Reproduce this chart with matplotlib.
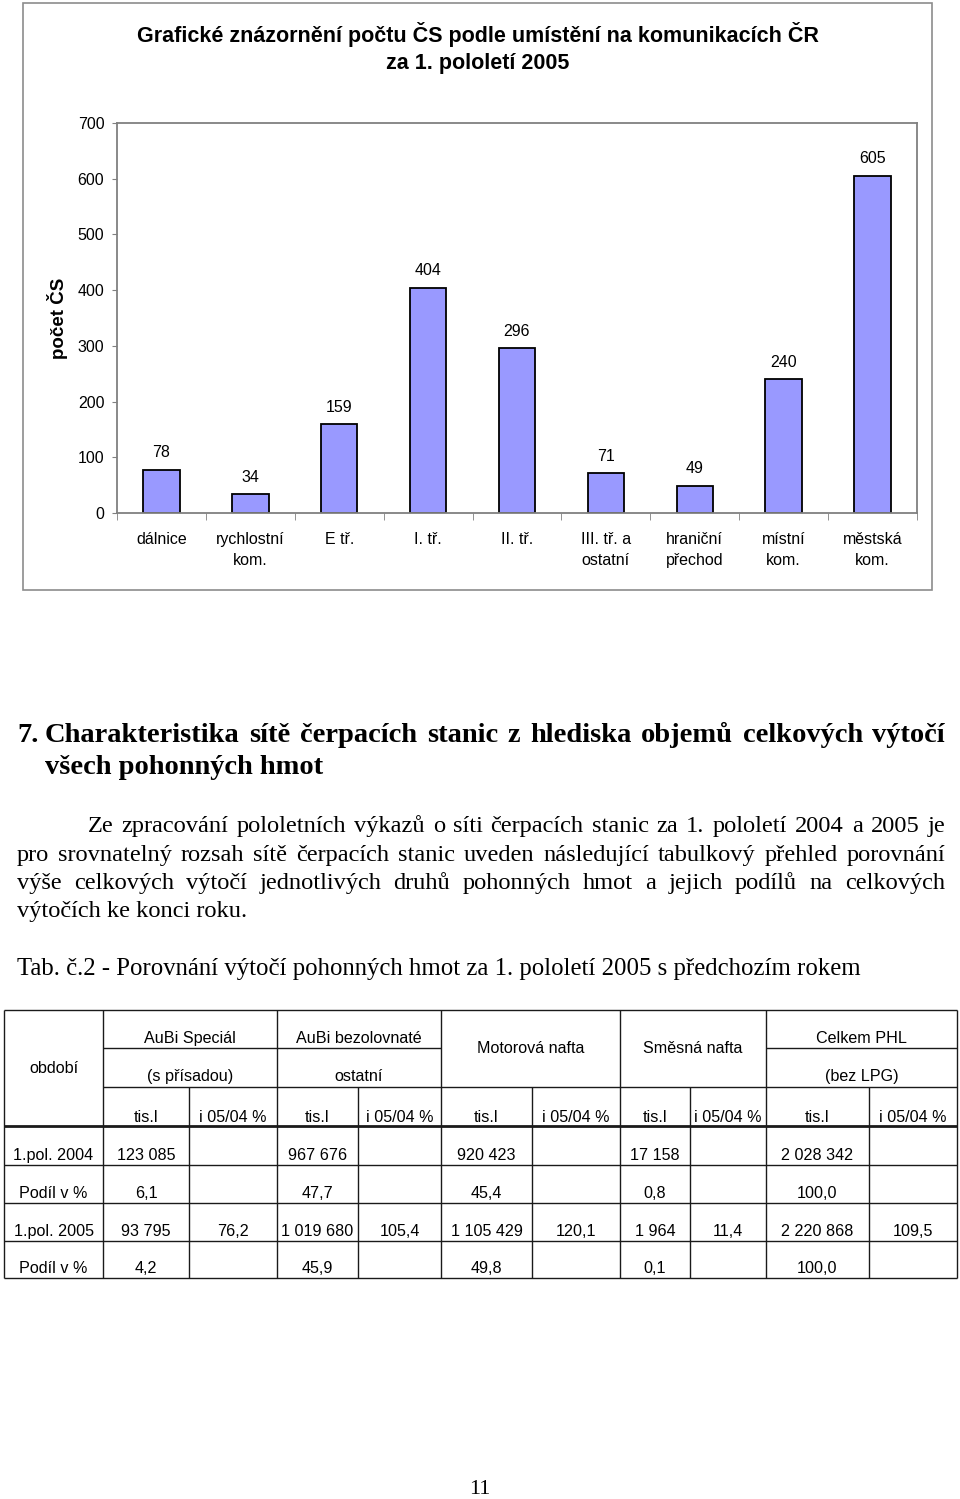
import numpy as np
import matplotlib
matplotlib.use("Agg")
import matplotlib.pyplot as plt
from matplotlib.patches import Rectangle

# data
categories = ["dálnice", "rychlostní\nkom.", "E tř.", "I. tř.", "II. tř.",
              "III. tř. a\nostatní", "hraniční\npřechod", "místní\nkom.", "městská\nkom."]
counts = [78, 34, 159, 404, 296, 71, 49, 240, 605]

chart_title = ["Grafické znázornění počtu ČS podle umístění na komunikacích ČR",
               "za 1. pololetí 2005"]

heading = ["7.", "Charakteristika sítě čerpacích stanic z hlediska objemů celkových výtočí",
           "všech pohonných hmot"]
paragraph = ["Ze zpracování pololetních výkazů o síti čerpacích stanic za 1. pololetí 2004 a 2005 je",
             "pro srovnatelný rozsah sítě čerpacích stanic uveden následující tabulkový přehled porovnání",
             "výše celkových výtočí jednotlivých druhů pohonných hmot a jejich podílů na celkových",
             "výtočích ke konci roku."]
tab_caption = "Tab. č.2 - Porovnání výtočí pohonných hmot za 1. pololetí 2005 s předchozím rokem"

products = [("AuBi Speciál", "(s přísadou)"), ("AuBi bezolovnaté", "ostatní"),
            ("Motorová nafta", None), ("Směsná nafta", None), ("Celkem PHL", "(bez LPG)")]
row_names = ["1.pol. 2004", "Podíl v %", "1.pol. 2005", "Podíl v %"]
vol_2004 = ["123 085", "967 676", "920 423", "17 158", "2 028 342"]
share_2004 = ["6,1", "47,7", "45,4", "0,8", "100,0"]
vol_2005 = ["93 795", "1 019 680", "1 105 429", "1 964", "2 220 868"]
index_05_04 = ["76,2", "105,4", "120,1", "11,4", "109,5"]
share_2005 = ["4,2", "45,9", "49,8", "0,1", "100,0"]

SANS = "Liberation Sans"
SERIF = "Liberation Serif"
plt.rcParams["font.family"] = SANS

W, H = 960, 1499
fig = plt.figure(figsize=(W / 100, H / 100), dpi=100)
page = fig.add_axes([0, 0, 1, 1])
page.set_xlim(0, W)
page.set_ylim(H, 0)
page.axis("off")

# ---- graf ----
page.add_patch(Rectangle((23, 3), 909, 587, fill=False, ec="#8c8c8c", lw=1.2))
page.text(478, 41.5, chart_title[0], ha="center", va="baseline", fontsize=15.5, weight="bold")
page.text(478, 69, chart_title[1], ha="center", va="baseline", fontsize=15.5, weight="bold")
page.text(57, 318, "počet ČS", rotation=90, ha="center", va="center", fontsize=13.5, weight="bold")

ax = fig.add_axes([117 / W, 1 - 513 / H, (917 - 117) / W, (513 - 123) / H])
x = np.arange(len(counts))
ax.bar(x, counts, width=0.41, color="#9999ff", edgecolor="black", lw=1.3)
ax.set_xlim(-0.5, 8.5)
ax.set_ylim(0, 700)
ax.set_yticks(range(0, 701, 100))
for s in ax.spines.values():
    s.set_color("#808080")
    s.set_linewidth(1.3)
ax.tick_params(axis="y", length=3.6, color="#808080", pad=5.5, labelsize=11.5)
ax.set_xticks(x)
ax.set_xticklabels(categories, linespacing=1.45)
ax.set_xticks(np.arange(-0.5, 9, 1), minor=True)
ax.tick_params(axis="x", which="major", length=0, pad=14, labelsize=11.5)
ax.tick_params(axis="x", which="minor", length=5, color="#808080")
for i, v in zip(x, counts):
    ax.annotate(str(v), (i, v), xytext=(0, 9), textcoords="offset points",
                ha="center", va="baseline", fontsize=11.5)

# ---- text ----
renderer = fig.canvas.get_renderer()


def justify(line, y, x0, x1, size, weight="normal"):
    words = line.split()
    texts = [page.text(0, y, w, va="baseline", fontsize=size, family=SERIF, weight=weight)
             for w in words]
    widths = [t.get_window_extent(renderer).width for t in texts]
    gap = (x1 - x0 - sum(widths)) / (len(words) - 1)
    pos = x0
    for t, w in zip(texts, widths):
        t.set_x(pos)
        pos += w + gap


page.text(17, 741.5, heading[0], va="baseline", fontsize=20.5, family=SERIF, weight="bold")
justify(heading[1], 741.5, 45, 945, 20.5, "bold")
page.text(45, 774, heading[2], va="baseline", fontsize=20.5, family=SERIF, weight="bold")

justify(paragraph[0], 832, 88, 945, 17.6)
justify(paragraph[1], 861, 17, 945, 17.6)
justify(paragraph[2], 889, 17, 945, 17.6)
page.text(17, 917, paragraph[3], va="baseline", fontsize=17.6, family=SERIF)
page.text(17, 975, tab_caption, va="baseline", fontsize=17.8, family=SERIF)

# ---- tabulka ----
LC = "#1a1a1a"


def hline(y, x0, x1, lw=1.0):
    page.plot([x0, x1], [y, y], color=LC, lw=lw, solid_capstyle="butt")


def vline(xx, y0, y1, lw=1.0):
    page.plot([xx, xx], [y0, y1], color=LC, lw=lw, solid_capstyle="butt")


col_edges = [103, 277, 441, 620, 766, 957]
sub_edges = [189, 358, 532, 690, 869]

hline(1010, 4, 957)
hline(1278, 4, 957)
vline(4, 1010, 1278)
vline(957, 1010, 1278)
hline(1048, 103, 441)
hline(1048, 766, 957)
hline(1087, 103, 957)
hline(1126, 4, 957, lw=2.0)
for yy in [1165, 1203, 1241]:
    hline(yy, 4, 957)
for xx in col_edges[:-1]:
    vline(xx, 1010, 1278)
for xx in sub_edges:
    vline(xx, 1087, 1278)

TS = 11.6
page.text(53.5, 1073, "období", ha="center", va="baseline", fontsize=TS)
for k, (top, bottom) in enumerate(products):
    cx = (col_edges[k] + col_edges[k + 1]) / 2
    if bottom is None:
        page.text(cx, 1053, top, ha="center", va="baseline", fontsize=TS)
    else:
        page.text(cx, 1043, top, ha="center", va="baseline", fontsize=TS)
        page.text(cx, 1081, bottom, ha="center", va="baseline", fontsize=TS)

tis_x = [(col_edges[k] + sub_edges[k]) / 2 for k in range(5)]
idx_x = [(sub_edges[k] + col_edges[k + 1]) / 2 for k in range(5)]
for k in range(5):
    page.text(tis_x[k], 1122, "tis.l", ha="center", va="baseline", fontsize=TS)
    page.text(idx_x[k], 1122, "i 05/04 %", ha="center", va="baseline", fontsize=TS)

row_base = [1160, 1198, 1236, 1273]
for name, yy in zip(row_names, row_base):
    page.text(53.5, yy, name, ha="center", va="baseline", fontsize=TS)
for k in range(5):
    page.text(tis_x[k], row_base[0], vol_2004[k], ha="center", va="baseline", fontsize=TS)
    page.text(tis_x[k], row_base[1], share_2004[k], ha="center", va="baseline", fontsize=TS)
    page.text(tis_x[k], row_base[2], vol_2005[k], ha="center", va="baseline", fontsize=TS)
    page.text(idx_x[k], row_base[2], index_05_04[k], ha="center", va="baseline", fontsize=TS)
    page.text(tis_x[k], row_base[3], share_2005[k], ha="center", va="baseline", fontsize=TS)

page.text(480, 1494, "11", ha="center", va="baseline", fontsize=16, family=SERIF)

fig.savefig("out.png", dpi=100)
